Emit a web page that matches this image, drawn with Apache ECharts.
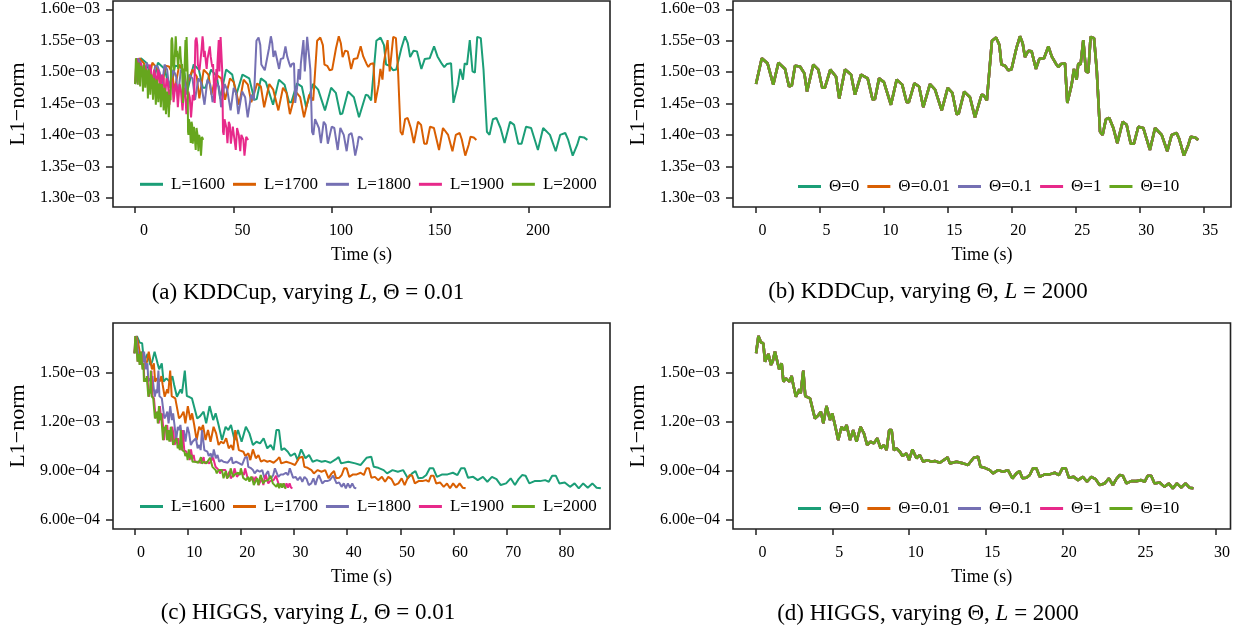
<!DOCTYPE html>
<html><head><meta charset="utf-8">
<script src="https://cdn.jsdelivr.net/npm/echarts@6/dist/echarts.min.js"></script>
<style>html,body{margin:0;padding:0;background:#fff}#c{width:1233px;height:632px}</style>
</head><body><div id="c"></div>
<script>
// L1-norm values are in units of 1e-3
// ---- KDDCup (panels a, b) ----
const kddTimeL2000 = [0.00,0.45,0.90,1.35,1.75,2.27,2.58,2.80,3.05,3.44,
3.78,3.99,4.48,4.87,5.18,5.38,5.81,6.25,6.51,6.96,
7.43,7.74,8.21,8.73,9.12,9.30,9.62,10.00,10.55,11.00,
11.43,11.78,11.95,12.38,12.75,13.08,13.60,14.00,14.52,14.99,
15.35,15.69,15.85,16.28,16.73,17.12,17.64,17.80,18.05,18.45,
18.77,19.03,19.19,19.47,19.72,19.97,20.36,20.64,20.85,21.03,
21.29,21.55,21.89,22.15,22.52,22.86,23.12,23.46,23.64,23.85,
24.16,24.34,24.68,24.86,25.07,25.20,25.38,25.59,25.80,25.98,
26.16,26.43,26.64,26.90,27.10,27.36,27.62,27.94,28.25,28.67,
28.98,29.30,29.55,29.89,30.28,30.80,31.20,31.72,32.16,32.50,
32.89,33.10,33.46,33.80,33.99,34.32,34.58];
const kddTimeL1900 = [0.00,0.75,1.49,2.24,2.91,3.77,4.28,4.65,5.06,5.71,
6.27,6.62,7.44,8.08,8.60,8.93,9.64,10.38,10.81,11.55,
12.33,12.85,13.63,14.49,15.14,15.44,15.97,16.60,17.51,18.26,
18.97,19.55,19.84,20.55,21.17,21.71,22.58,23.24,24.10,24.88,
25.48,26.05,26.31,27.02,27.77,28.42,29.28,29.55,29.96,30.63,
31.16,31.59,31.86,32.32,32.74,33.15,33.80,34.26,34.61,34.91,
35.34,35.77,36.34,36.77,37.38,37.95,38.38,38.94,39.24,39.59,
40.11,40.40,40.97,41.27,41.62,41.83,42.13,42.48,42.83,43.13,
43.43,43.87,44.22,44.65,44.99,45.42,45.85,46.38,46.90,47.59,
48.11,48.64,49.05,49.62,50.26,51.13,51.79,52.66,53.39,53.95,
54.60,54.95,55.54,56.11,56.42,56.97,57.40];
const kddTimeL1800 = [0.00,1.50,3.01,4.51,5.85,7.58,8.62,9.35,10.19,11.49,
12.63,13.33,14.96,16.27,17.30,17.97,19.41,20.88,21.74,23.25,
24.82,25.85,27.42,29.16,30.46,31.06,32.13,33.40,35.24,36.74,
38.18,39.35,39.91,41.35,42.59,43.69,45.42,46.76,48.50,50.07,
51.27,52.40,52.94,54.38,55.88,57.18,58.92,59.45,60.29,61.62,
62.69,63.56,64.09,65.03,65.86,66.70,68.00,68.94,69.64,70.24,
71.11,71.98,73.11,73.98,75.22,76.35,77.22,78.36,78.96,79.66,
80.69,81.30,82.43,83.03,83.73,84.17,84.77,85.47,86.17,86.77,
87.37,88.28,88.98,89.85,90.51,91.38,92.25,93.32,94.36,95.76,
96.79,97.86,98.70,99.83,101.14,102.87,104.21,105.94,107.41,108.55,
109.85,110.55,111.76,112.89,113.53,114.63,115.50];
const kddTimeL1700 = [0.00,2.25,4.51,6.76,8.77,11.37,12.93,14.03,15.28,17.23,
18.94,19.99,22.44,24.40,25.95,26.95,29.11,31.31,32.62,34.87,
37.22,38.78,41.13,43.74,45.69,46.59,48.20,50.10,52.86,55.11,
57.26,59.02,59.87,62.02,63.88,65.53,68.14,70.14,72.75,75.10,
76.90,78.61,79.41,81.56,83.82,85.77,88.38,89.18,90.43,92.43,
94.04,95.34,96.14,97.54,98.80,100.05,102.00,103.41,104.46,105.36,
106.66,107.97,109.67,110.97,112.83,114.53,115.83,117.53,118.44,119.49,
121.04,121.94,123.65,124.55,125.60,126.25,127.15,128.21,129.26,130.16,
131.06,132.41,133.47,134.77,135.77,137.07,138.38,139.98,141.53,143.64,
145.19,146.79,148.05,149.75,151.70,154.31,156.31,158.92,161.12,162.83,
164.78,165.83,167.63,169.34,170.29,171.94,173.25];
const kddTimeL1600 = [0.00,2.99,5.98,8.96,11.62,15.07,17.13,18.59,20.25,22.84,
25.10,26.49,29.75,32.34,34.40,35.72,38.58,41.50,43.23,46.21,
49.34,51.39,54.51,57.97,60.56,61.75,63.88,66.40,70.05,73.04,
75.90,78.22,79.35,82.20,84.66,86.85,90.30,92.96,96.41,99.53,
101.92,104.18,105.24,108.10,111.09,113.68,117.13,118.19,119.85,122.51,
124.63,126.36,127.42,129.28,130.94,132.60,135.19,137.05,138.44,139.64,
141.37,143.09,145.35,147.08,149.53,151.79,153.52,155.77,156.97,158.36,
160.42,161.62,163.88,165.07,166.46,167.33,168.52,169.92,171.31,172.51,
173.70,175.50,176.89,178.62,179.94,181.67,183.40,185.52,187.58,190.37,
192.43,194.55,196.21,198.47,201.06,204.51,207.17,210.62,213.54,215.80,
218.39,219.78,222.17,224.43,225.69,227.88,229.61];
const kddL1 = [1.481,1.522,1.514,1.480,1.515,1.505,1.477,1.479,1.510,1.509,
1.498,1.469,1.512,1.504,1.475,1.475,1.504,1.493,1.458,1.504,
1.496,1.464,1.496,1.490,1.456,1.457,1.490,1.484,1.448,1.488,
1.480,1.452,1.452,1.482,1.477,1.444,1.481,1.472,1.439,1.475,
1.467,1.433,1.434,1.469,1.460,1.428,1.464,1.463,1.455,1.550,
1.555,1.543,1.512,1.510,1.503,1.504,1.538,1.557,1.546,1.524,
1.534,1.533,1.505,1.521,1.522,1.541,1.525,1.513,1.508,1.513,
1.514,1.451,1.480,1.505,1.488,1.514,1.512,1.551,1.501,1.499,
1.556,1.554,1.504,1.405,1.400,1.425,1.427,1.411,1.387,1.421,
1.416,1.386,1.386,1.413,1.411,1.376,1.411,1.400,1.374,1.400,
1.403,1.393,1.367,1.384,1.397,1.396,1.392];

// ---- HIGGS (panels c, d) ----
const higgsTimeL2000 = [0.00,0.15,0.32,0.47,0.58,0.69,0.80,0.97,1.08,1.23,
1.41,1.51,1.67,1.78,1.95,2.17,2.32,2.43,2.60,2.82,
2.91,3.08,3.21,3.34,3.52,3.63,3.84,4.02,4.23,4.39,
4.60,4.82,4.97,5.15,5.36,5.58,5.75,5.91,6.13,6.34,
6.56,6.82,7.04,7.25,7.47,7.69,7.91,8.13,8.34,8.52,
8.69,8.85,9.00,9.17,9.39,9.56,9.82,9.99,10.21,10.47,
10.69,10.91,11.17,11.46,11.67,12.00,12.32,12.50,12.65,13.09,
13.52,13.84,14.21,14.50,14.65,14.93,15.26,15.47,15.80,15.91,
16.13,16.45,16.74,17.00,17.21,17.39,17.65,17.87,18.08,18.30,
18.52,18.85,19.17,19.50,19.78,20.00,20.22,20.43,20.74,21.02,
21.34,21.61,21.89,22.17,22.43,22.76,23.04,23.30,23.52,23.74,
23.95,24.18,24.50,24.83,25.15,25.37,25.58,25.80,26.02,26.35,
26.67,26.95,27.21,27.48,27.76,28.04,28.30,28.56];
const higgsTimeL1900 = [0.00,0.16,0.33,0.49,0.60,0.72,0.83,1.01,1.12,1.28,
1.47,1.57,1.74,1.85,2.03,2.26,2.41,2.53,2.70,2.93,
3.03,3.20,3.34,3.47,3.66,3.78,3.99,4.18,4.40,4.57,
4.78,5.01,5.17,5.36,5.57,5.80,5.98,6.15,6.38,6.59,
6.82,7.09,7.32,7.54,7.77,8.00,8.23,8.46,8.67,8.86,
9.04,9.20,9.36,9.54,9.77,9.94,10.21,10.39,10.62,10.89,
11.12,11.35,11.62,11.92,12.14,12.48,12.81,13.00,13.16,13.61,
14.06,14.39,14.78,15.08,15.24,15.53,15.87,16.09,16.43,16.55,
16.78,17.11,17.41,17.68,17.90,18.09,18.36,18.58,18.80,19.03,
19.26,19.60,19.94,20.28,20.57,20.80,21.03,21.25,21.57,21.86,
22.19,22.47,22.77,23.06,23.33,23.67,23.96,24.23,24.46,24.69,
24.91,25.15,25.48,25.82,26.16,26.38,26.60,26.83,27.06,27.40,
27.74,28.03,28.30,28.58,28.87,29.16,29.43,29.70];
const higgsTimeL1800 = [0.00,0.22,0.47,0.69,0.85,1.01,1.17,1.42,1.58,1.80,
2.06,2.20,2.44,2.60,2.85,3.17,3.39,3.55,3.80,4.12,
4.25,4.50,4.69,4.88,5.14,5.30,5.61,5.87,6.18,6.41,
6.72,7.04,7.26,7.52,7.83,8.15,8.40,8.63,8.95,9.26,
9.58,9.96,10.28,10.59,10.91,11.23,11.55,11.87,12.18,12.44,
12.69,12.92,13.14,13.39,13.71,13.96,14.34,14.59,14.91,15.29,
15.61,15.93,16.31,16.73,17.04,17.52,17.99,18.25,18.47,19.11,
19.74,20.21,20.75,21.17,21.39,21.80,22.28,22.59,23.07,23.23,
23.55,24.02,24.44,24.82,25.13,25.39,25.77,26.09,26.40,26.72,
27.04,27.52,27.99,28.47,28.88,29.20,29.52,29.83,30.28,30.69,
31.16,31.55,31.96,32.37,32.75,33.23,33.64,34.02,34.34,34.66,
34.97,35.30,35.77,36.25,36.72,37.04,37.35,37.67,37.99,38.47,
38.94,39.35,39.73,40.12,40.53,40.94,41.32,41.70];
const higgsTimeL1700 = [0.00,0.33,0.70,1.02,1.26,1.50,1.74,2.11,2.35,2.68,
3.07,3.29,3.64,3.88,4.25,4.73,5.06,5.30,5.67,6.15,
6.34,6.71,7.00,7.28,7.67,7.91,8.37,8.76,9.22,9.57,
10.03,10.51,10.83,11.23,11.68,12.16,12.54,12.88,13.36,13.82,
14.30,14.87,15.35,15.81,16.28,16.76,17.24,17.72,18.18,18.57,
18.94,19.29,19.62,19.99,20.47,20.84,21.41,21.78,22.26,22.82,
23.30,23.78,24.35,24.98,25.44,26.16,26.86,27.25,27.58,28.54,
29.47,30.17,30.98,31.61,31.94,32.55,33.27,33.72,34.44,34.68,
35.16,35.86,36.49,37.06,37.52,37.91,38.48,38.96,39.41,39.89,
40.37,41.09,41.79,42.51,43.12,43.60,44.08,44.54,45.21,45.82,
46.52,47.11,47.72,48.33,48.90,49.62,50.23,50.79,51.27,51.75,
52.21,52.71,53.41,54.13,54.83,55.31,55.76,56.24,56.72,57.44,
58.14,58.75,59.32,59.91,60.52,61.13,61.69,62.26];
const higgsTimeL1600 = [0.00,0.46,0.98,1.44,1.78,2.12,2.46,2.98,3.32,3.78,
4.33,4.64,5.13,5.46,5.99,6.66,7.12,7.46,7.98,8.66,
8.93,9.46,9.85,10.25,10.81,11.14,11.79,12.34,12.99,13.48,
14.12,14.80,15.26,15.81,16.46,17.13,17.65,18.14,18.82,19.46,
20.14,20.94,21.61,22.26,22.93,23.61,24.28,24.96,25.60,26.16,
26.68,27.17,27.63,28.15,28.83,29.35,30.15,30.67,31.34,32.14,
32.82,33.49,34.29,35.18,35.83,36.84,37.82,38.38,38.84,40.19,
41.51,42.49,43.62,44.52,44.98,45.84,46.85,47.49,48.51,48.84,
49.52,50.50,51.39,52.19,52.83,53.39,54.19,54.86,55.51,56.18,
56.86,57.87,58.85,59.87,60.72,61.40,62.08,62.72,63.67,64.53,
65.51,66.34,67.20,68.06,68.86,69.87,70.73,71.53,72.21,72.88,
73.53,74.23,75.22,76.23,77.21,77.89,78.53,79.21,79.88,80.89,
81.88,82.74,83.53,84.36,85.22,86.08,86.88,87.68];
const higgsL1 = [1.616,1.721,1.681,1.677,1.565,1.575,1.612,1.545,1.565,1.626,
1.555,1.518,1.555,1.443,1.463,1.443,1.477,1.423,1.351,1.396,
1.372,1.510,1.355,1.351,1.341,1.330,1.219,1.233,1.260,1.189,
1.294,1.209,1.250,1.179,1.087,1.168,1.148,1.179,1.087,1.148,
1.077,1.168,1.128,1.057,1.077,1.067,1.098,1.037,1.057,1.026,
1.148,1.148,1.026,1.037,1.016,0.990,1.006,0.965,1.030,0.976,
0.996,0.955,0.965,0.955,0.960,0.949,0.969,0.983,0.945,0.955,
0.945,0.935,0.979,0.985,0.924,0.918,0.904,0.884,0.904,0.915,
0.894,0.904,0.854,0.884,0.898,0.854,0.857,0.874,0.915,0.915,
0.863,0.878,0.878,0.888,0.874,0.915,0.915,0.857,0.863,0.843,
0.863,0.833,0.863,0.849,0.813,0.823,0.854,0.813,0.849,0.874,
0.870,0.823,0.837,0.837,0.843,0.833,0.870,0.870,0.823,0.829,
0.802,0.823,0.793,0.823,0.797,0.823,0.797,0.793];

// ---- labels & ticks ----
const namesL = ['L=1600','L=1700','L=1800','L=1900','L=2000'];
const namesTheta = ['\u0398=0','\u0398=0.01','\u0398=0.1','\u0398=1','\u0398=10'];
const xTicksA = [0,50,100,150,200];
const xTicksB = [0,5,10,15,20,25,30,35];
const xTicksC = [0,10,20,30,40,50,60,70,80];
const xTicksD = [0,5,10,15,20,25,30];
const yTicksKdd = [1.30,1.35,1.40,1.45,1.50,1.55,1.60];
const yTicksHiggs = [0.6,0.9,1.2,1.5];
const captions = [
  '(a) KDDCup, varying {i|L}, \u0398 = 0.01',
  '(b) KDDCup, varying \u0398, {i|L} = 2000',
  '(c) HIGGS, varying {i|L}, \u0398 = 0.01',
  '(d) HIGGS, varying \u0398, {i|L} = 2000'
];
const colors = ['#1B9E77','#D95F02','#7570B3','#E7298A','#66A61E'];

const FF = 'Liberation Serif';
function zip(ts, vs){ return ts.map((t,i)=>[t, vs[i]]); }
function fmtY(v){ return v >= 0.999 ? v.toFixed(2)+'e\u221203' : (v*10).toFixed(2)+'e\u221204'; }

const grids = [
  {left:113, top:1, width:497, height:206},
  {left:733, top:1, width:498, height:206},
  {left:113, top:323, width:497, height:206},
  {left:733, top:323, width:498, height:206}
].map(g => Object.assign(g, {show:true, borderColor:'#222', borderWidth:1.6, backgroundColor:'transparent'}));

function xAx(gi, min, max, ticks, pad){
  return {type:'value', gridIndex:gi, min:min, max:max,
    axisLine:{show:false, onZero:false}, splitLine:{show:false},
    axisTick:{show:true, customValues:ticks, length:6, lineStyle:{color:'#222', width:1.5}},
    axisLabel:{customValues:ticks, margin:16, fontSize:16, fontFamily:FF, color:'#000', padding:[0,0,0,pad]},
    name:'Time (s)', nameLocation:'middle', nameGap:39,
    nameTextStyle:{fontSize:18, fontFamily:FF, color:'#000'}};
}
function yAx(gi, min, max, ticks){
  return {type:'value', gridIndex:gi, min:min, max:max,
    axisLine:{show:false, onZero:false}, splitLine:{show:false},
    axisTick:{show:true, customValues:ticks, length:7, lineStyle:{color:'#222', width:1.5}},
    axisLabel:{customValues:ticks, formatter:fmtY, margin:13, fontSize:16, fontFamily:FF, color:'#000'},
    name:'L1\u2212norm', nameLocation:'middle', nameRotate:90, nameGap:84,
    nameTextStyle:{fontSize:22, fontFamily:FF, color:'#000'}};
}
function legend(left, top, names){
  return {left:left, top:top, padding:0, orient:'horizontal', data:names, icon:'rect',
    itemWidth:23, itemHeight:3, itemGap:8, selectedMode:false,
    textStyle:{fontSize:17, fontFamily:FF, color:'#000', padding:[0,0,0,3]}};
}
function line(name, gi, data, ci, w){
  return {type:'line', name:name, xAxisIndex:gi, yAxisIndex:gi, data:data,
    showSymbol:false, symbol:'none', color:colors[ci],
    lineStyle:{width:w, color:colors[ci]}, emphasis:{disabled:true}, animation:false};
}

const kddTimesL = [kddTimeL1600, kddTimeL1700, kddTimeL1800, kddTimeL1900, kddTimeL2000];
const higgsTimesL = [higgsTimeL1600, higgsTimeL1700, higgsTimeL1800, higgsTimeL1900, higgsTimeL2000];

const series = [];
namesL.forEach((n,i)=>series.push(line(n, 0, zip(kddTimesL[i], kddL1), i, 2)));
namesTheta.forEach((n,i)=>series.push(line(n, 1, zip(kddTimeL2000, kddL1), i, 2.6)));
namesL.forEach((n,i)=>series.push(line(n, 2, zip(higgsTimesL[i], higgsL1), i, 2)));
namesTheta.forEach((n,i)=>series.push(line(n, 3, zip(higgsTimeL2000, higgsL1), i, 2.6)));

const capPos = [[308,293],[928,292],[308,613],[928,614]];
const graphic = captions.map((c,i)=>({
  type:'text', x:capPos[i][0], y:capPos[i][1], silent:true,
  style:{text:c, fontSize:23, fontFamily:FF, fill:'#000',
    align:'center', verticalAlign:'middle', textAlign:'center', textVerticalAlign:'middle',
    rich:{i:{fontStyle:'italic', fontSize:23, fontFamily:FF, fill:'#000'}}}
}));

const chart = echarts.init(document.getElementById('c'), null, {renderer:'canvas'});
chart.setOption({
  animation:false,
  backgroundColor:'#fff',
  grid: grids,
  xAxis: [xAx(0,-11.2,241.1,xTicksA,18), xAx(1,-1.80,37.14,xTicksB,13), xAx(2,-4.04,89.4,xTicksC,13), xAx(3,-1.51,30.98,xTicksD,13)],
  yAxis: [yAx(0,1.2852,1.6132,yTicksKdd), yAx(1,1.2852,1.6132,yTicksKdd), yAx(2,0.5452,1.8004,yTicksHiggs), yAx(3,0.5452,1.8004,yTicksHiggs)],
  legend: [legend(140,175.8,namesL), legend(798,178,namesTheta), legend(140,498,namesL), legend(798,500,namesTheta)],
  graphic: graphic,
  series: series
});
</script></body></html>
